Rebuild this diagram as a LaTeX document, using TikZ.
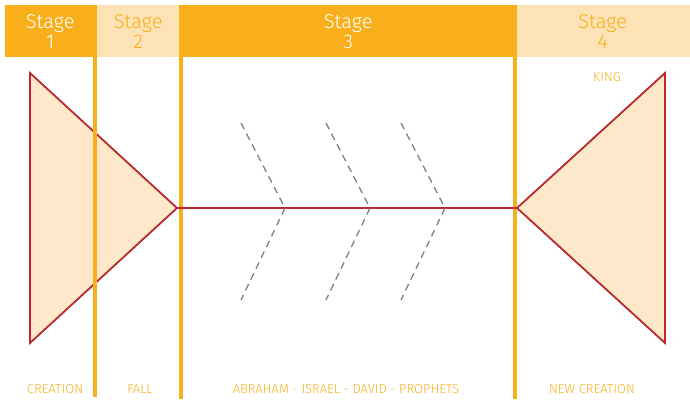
\documentclass[tikz,border=0pt]{standalone}
\usepackage{fontspec}
\setmainfont{Fira Sans}
\newfontfamily\stagefont{Fira Sans Light}
\usepackage{tikz}
\usetikzlibrary{calc,positioning}
\definecolor{stagedark}{HTML}{F9AF1B}
\definecolor{stagelight}{HTML}{FDE2B5}
\definecolor{fishfill}{HTML}{FDE8CA}
\definecolor{fishred}{HTML}{B8282E}
\definecolor{ribgrey}{gray}{0.5}

\begin{document}
\begin{tikzpicture}[x=1pt,y=-1pt]

\tikzset{darkstage/.style={fill=stagedark,draw=none,minimum height=52pt,inner sep=0pt,text=white,font=\stagefont\fontsize{20}{20}\selectfont,align=center,anchor=north west},
lightstage/.style={darkstage,fill=stagelight,text=stagedark},
divider/.style={draw=stagedark,line width=3.5pt},
fish/.style={draw=fishred,fill=fishfill,line width=1.8pt,line join=miter},
spine/.style={draw=fishred,line width=1.8pt},
rib/.style={draw=ribgrey,line width=1.3pt,dash pattern=on 7pt off 5pt},
era/.style={text=stagedark,font=\stagefont\fontsize{13}{14}\selectfont,inner sep=0pt}}

\useasboundingbox (0,0) rectangle (690,399);

% Stage headers
\node[darkstage,minimum width=90pt] (st1) at (5,5) {Stage\\1};
\node[lightstage,minimum width=86pt] (st2) at (95,5) {Stage\\2};
\node[darkstage,minimum width=334pt] (st3) at (181,5) {Stage\\3};
\node[lightstage,minimum width=175pt] (st4) at (515,5) {Stage\\4};

% Tail and head
\coordinate (tailtop) at (30,73); \coordinate (tailbot) at (30,343); \coordinate (tailtip) at (177,208);
\coordinate (headtop) at (665,73); \coordinate (headbot) at (665,343); \coordinate (headtip) at (517,208);
\draw[fish] (tailtop) -- (tailtip) -- (tailbot) -- cycle;
\draw[fish] (headtop) -- (headtip) -- (headbot) -- cycle;

% Dividers
\coordinate (div1) at (95,5); \coordinate (div1b) at (95,397);
\coordinate (div2) at (181,5); \coordinate (div2b) at (181,399);
\coordinate (div3) at (515,5); \coordinate (div3b) at (515,399);
\draw[divider] (div1) -- (div1b); \draw[divider] (div2) -- (div2b); \draw[divider] (div3) -- (div3b);

% Spine
\draw[spine] (tailtip) -- (headtip);

% Ribs
\foreach \n/\x in {1/241, 2/326, 3/401} {
  \coordinate (ribtop\n) at (\x,123);
  \coordinate (ribtip\n) at ($(\x,208) + (44,0)$);
  \coordinate (ribbot\n) at (\x,300);
  \draw[rib] (ribtop\n) -- (ribtip\n) -- (ribbot\n);
}

% Eras
\node[era] (creation) at (55,389.5) {CREATION};
\node[era] (fall) at (140,389.5) {FALL};
\node[era] (abraham) at (346,389.5) {ABRAHAM - ISRAEL - DAVID - PROPHETS};
\node[era] (newcreation) at (592,389.5) {NEW CREATION};
\node[era] (king) at (607,77) {KING};

\end{tikzpicture}
\end{document}
